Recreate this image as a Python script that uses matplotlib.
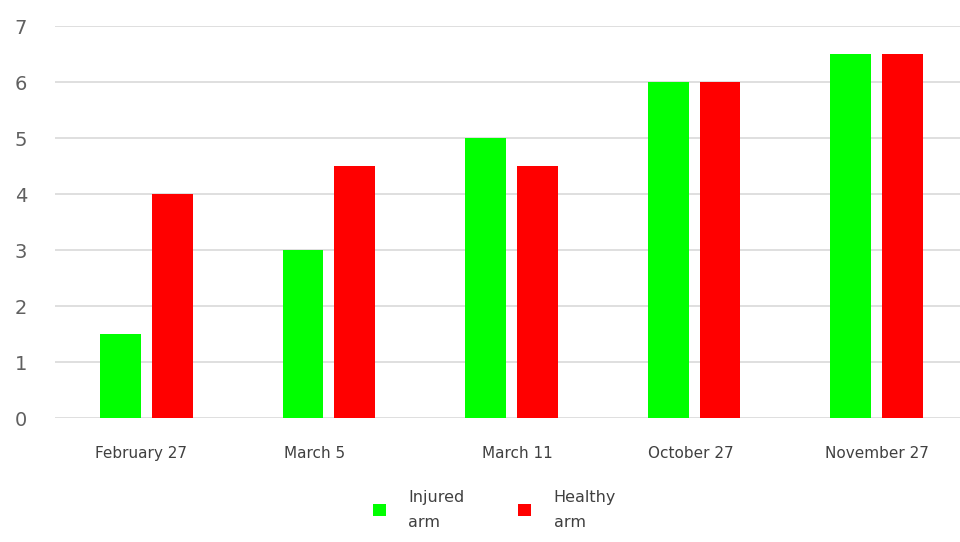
import matplotlib.pyplot as plt
import numpy as np

# Arm measurements per date
dates = ['February 27', 'March 5', 'March 11', 'October 27', 'November 27']
injured = [1.5, 3, 5, 6, 6.5]
healthy = [4, 4.5, 4.5, 6, 6.5]

fig = plt.figure(figsize=(9.6, 5.42), dpi=100)
ax = fig.add_axes([55 / 960, 1 - 418 / 542, 913 / 960, (418 - 26) / 542])

x = np.arange(len(dates))
w = 0.224
ax.bar(x - 0.142, injured, w, color='#00ff00', label='Injured\narm', zorder=3)
ax.bar(x + 0.142, healthy, w, color='#ff0000', label='Healthy\narm', zorder=3)

ax.set_xlim(-0.5, 4.5)
ax.set_ylim(0, 7)
ax.set_yticks(range(8))
ax.yaxis.grid(True, color='#d9d9d9', linewidth=1.2, zorder=0)
ax.set_axisbelow(True)
for s in ax.spines.values():
    s.set_visible(False)
ax.tick_params(length=0)
ax.tick_params(axis='y', labelsize=14, labelcolor='#606060', pad=20)
ax.set_xticks(x - np.array([0.03, 0.08, -0.03, 0.02, 0.0]))
ax.set_xticklabels(dates, fontsize=11, color='#404040')
ax.tick_params(axis='x', pad=20)

fig.legend(loc='lower center', bbox_to_anchor=(0.515, -0.005), ncol=2, frameon=False,
           fontsize=11.5, handlelength=0.8, handleheight=0.8, columnspacing=3.4,
           handletextpad=1.4, labelcolor='#404040', labelspacing=0)
for t in fig.legends[0].get_texts():
    t.set_linespacing(1.9)

fig.savefig('out.png', dpi=100)
